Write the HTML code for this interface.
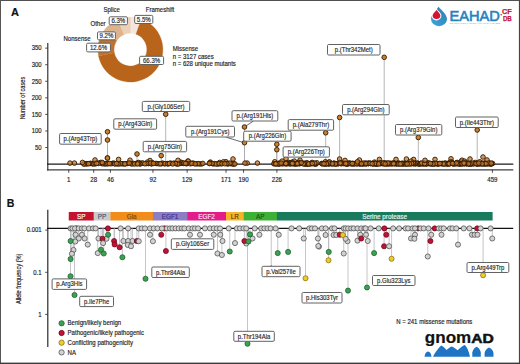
<!DOCTYPE html>
<html><head><meta charset="utf-8"><title>Figure</title>
<style>html,body{margin:0;padding:0;background:#fff;}body{width:520px;height:364px;overflow:hidden;font-family:"Liberation Sans",sans-serif;}svg{display:block;}</style></head>
<body>
<svg width="520" height="364" viewBox="0 0 520 364" font-family="Liberation Sans, sans-serif">
<rect x="0" y="0" width="520" height="364" fill="#fff"/>
<text x="11" y="15.8" font-size="11" font-weight="bold" fill="#111" stroke="#111" stroke-width="0.16">A</text>
<path d="M130.40,17.10 A32.5,32.5 0 0 1 141.42,19.03 L135.96,34.17 A16.4,16.4 0 0 0 130.40,33.20 Z" fill="#f6e6dc" stroke="#f6e6dc" stroke-width="0.3"/>
<path d="M141.42,19.03 A32.5,32.5 0 1 1 98.53,55.95 L114.32,52.80 A16.4,16.4 0 1 0 135.96,34.17 Z" fill="#b8651b" stroke="#b8651b" stroke-width="0.3"/>
<path d="M98.53,55.95 A32.5,32.5 0 0 1 103.50,31.36 L116.83,40.40 A16.4,16.4 0 0 0 114.32,52.80 Z" fill="#be7330" stroke="#be7330" stroke-width="0.3"/>
<path d="M103.50,31.36 A32.5,32.5 0 0 1 117.86,19.62 L124.07,34.47 A16.4,16.4 0 0 0 116.83,40.40 Z" fill="#ddb38e" stroke="#ddb38e" stroke-width="0.3"/>
<path d="M117.86,19.62 A32.5,32.5 0 0 1 130.40,17.10 L130.40,33.20 A16.4,16.4 0 0 0 124.07,34.47 Z" fill="#ecd0b8" stroke="#ecd0b8" stroke-width="0.3"/>
<g fill="#222">
<text font-size="6.41" transform="translate(103.5,12.10) scale(0.94,1)" stroke="#222" stroke-width="0.16">Splice</text>
<text font-size="6.41" transform="translate(145.8,12.10) scale(0.94,1)" stroke="#222" stroke-width="0.16">Frameshift</text>
<text font-size="6.41" transform="translate(90.5,26.40) scale(0.94,1)" stroke="#222" stroke-width="0.16">Other</text>
<text font-size="6.41" transform="translate(63.5,41.10) scale(0.94,1)" stroke="#222" stroke-width="0.16">Nonsense</text>
<text font-size="6.41" transform="translate(172.7,51.20) scale(0.94,1)" stroke="#222" stroke-width="0.16">Missense</text>
<text font-size="6.41" transform="translate(172.7,58.90) scale(0.94,1)" stroke="#222" stroke-width="0.16">n = 3127 cases</text>
<text font-size="6.41" transform="translate(172.7,66.10) scale(0.94,1)" stroke="#222" stroke-width="0.16">n = 628 unique mutants</text>
</g>
<rect x="109.20" y="16.80" width="18.20" height="7.90" rx="1.2" fill="#fff" stroke="#626262" stroke-width="1"/>
<text font-size="6.47" text-anchor="middle" fill="#2a2a2a" transform="translate(118.30,23.05) scale(0.94,1)" stroke="#2a2a2a" stroke-width="0.16">6.3%</text>
<rect x="134.70" y="15.40" width="18.10" height="8.10" rx="1.2" fill="#fff" stroke="#626262" stroke-width="1"/>
<text font-size="6.47" text-anchor="middle" fill="#2a2a2a" transform="translate(143.75,21.75) scale(0.94,1)" stroke="#2a2a2a" stroke-width="0.16">5.5%</text>
<rect x="97.50" y="31.90" width="17.90" height="7.90" rx="1.2" fill="#fff" stroke="#626262" stroke-width="1"/>
<text font-size="6.47" text-anchor="middle" fill="#2a2a2a" transform="translate(106.45,38.15) scale(0.94,1)" stroke="#2a2a2a" stroke-width="0.16">9.2%</text>
<rect x="86.60" y="43.20" width="23.80" height="8.70" rx="1.2" fill="#fff" stroke="#626262" stroke-width="1"/>
<text font-size="6.47" text-anchor="middle" fill="#2a2a2a" transform="translate(98.50,49.85) scale(0.94,1)" stroke="#2a2a2a" stroke-width="0.16">12.6%</text>
<rect x="139.60" y="56.30" width="24.00" height="8.20" rx="1.2" fill="#fff" stroke="#626262" stroke-width="1"/>
<text font-size="6.47" text-anchor="middle" fill="#2a2a2a" transform="translate(151.60,62.70) scale(0.94,1)" stroke="#2a2a2a" stroke-width="0.16">66.3%</text>
<line x1="47.8" y1="43" x2="47.8" y2="170.4" stroke="#222" stroke-width="1.1"/>
<line x1="45.2" y1="147.53" x2="47.5" y2="147.53" stroke="#222" stroke-width="0.8"/>
<text font-size="6.36" text-anchor="end" fill="#222" transform="translate(41.6,149.79) scale(0.94,1)" stroke="#222" stroke-width="0.16">50</text>
<line x1="45.2" y1="130.97" x2="47.5" y2="130.97" stroke="#222" stroke-width="0.8"/>
<text font-size="6.36" text-anchor="end" fill="#222" transform="translate(41.6,133.22) scale(0.94,1)" stroke="#222" stroke-width="0.16">100</text>
<line x1="45.2" y1="114.41" x2="47.5" y2="114.41" stroke="#222" stroke-width="0.8"/>
<text font-size="6.36" text-anchor="end" fill="#222" transform="translate(41.6,116.66) scale(0.94,1)" stroke="#222" stroke-width="0.16">150</text>
<line x1="45.2" y1="97.84" x2="47.5" y2="97.84" stroke="#222" stroke-width="0.8"/>
<text font-size="6.36" text-anchor="end" fill="#222" transform="translate(41.6,100.09) scale(0.94,1)" stroke="#222" stroke-width="0.16">200</text>
<line x1="45.2" y1="81.27" x2="47.5" y2="81.27" stroke="#222" stroke-width="0.8"/>
<text font-size="6.36" text-anchor="end" fill="#222" transform="translate(41.6,83.52) scale(0.94,1)" stroke="#222" stroke-width="0.16">250</text>
<line x1="45.2" y1="64.71" x2="47.5" y2="64.71" stroke="#222" stroke-width="0.8"/>
<text font-size="6.36" text-anchor="end" fill="#222" transform="translate(41.6,66.96) scale(0.94,1)" stroke="#222" stroke-width="0.16">300</text>
<line x1="45.2" y1="48.14" x2="47.5" y2="48.14" stroke="#222" stroke-width="0.8"/>
<text font-size="6.36" text-anchor="end" fill="#222" transform="translate(41.6,50.39) scale(0.94,1)" stroke="#222" stroke-width="0.16">350</text>
<line x1="47" y1="164.1" x2="513.3" y2="164.1" stroke="#1a1a1a" stroke-width="1.35"/>
<line x1="47" y1="169.8" x2="513.3" y2="169.8" stroke="#3c4146" stroke-width="1.3"/>
<line x1="68.75" y1="169.8" x2="68.75" y2="172.8" stroke="#222" stroke-width="0.8"/>
<text font-size="6.52" text-anchor="middle" fill="#222" transform="translate(68.75,181.90) scale(0.94,1)" stroke="#222" stroke-width="0.16">1</text>
<line x1="93.73" y1="169.8" x2="93.73" y2="172.8" stroke="#222" stroke-width="0.8"/>
<text font-size="6.52" text-anchor="middle" fill="#222" transform="translate(93.73,181.90) scale(0.94,1)" stroke="#222" stroke-width="0.16">28</text>
<line x1="110.38" y1="169.8" x2="110.38" y2="172.8" stroke="#222" stroke-width="0.8"/>
<text font-size="6.52" text-anchor="middle" fill="#222" transform="translate(110.38,181.90) scale(0.94,1)" stroke="#222" stroke-width="0.16">46</text>
<line x1="152.93" y1="169.8" x2="152.93" y2="172.8" stroke="#222" stroke-width="0.8"/>
<text font-size="6.52" text-anchor="middle" fill="#222" transform="translate(152.93,181.90) scale(0.94,1)" stroke="#222" stroke-width="0.16">92</text>
<line x1="187.15" y1="169.8" x2="187.15" y2="172.8" stroke="#222" stroke-width="0.8"/>
<text font-size="6.52" text-anchor="middle" fill="#222" transform="translate(187.15,181.90) scale(0.94,1)" stroke="#222" stroke-width="0.16">129</text>
<line x1="226.00" y1="169.8" x2="226.00" y2="172.8" stroke="#222" stroke-width="0.8"/>
<text font-size="6.52" text-anchor="middle" fill="#222" transform="translate(226.00,181.90) scale(0.94,1)" stroke="#222" stroke-width="0.16">171</text>
<line x1="243.57" y1="169.8" x2="243.57" y2="172.8" stroke="#222" stroke-width="0.8"/>
<text font-size="6.52" text-anchor="middle" fill="#222" transform="translate(243.57,181.90) scale(0.94,1)" stroke="#222" stroke-width="0.16">190</text>
<line x1="276.88" y1="169.8" x2="276.88" y2="172.8" stroke="#222" stroke-width="0.8"/>
<text font-size="6.52" text-anchor="middle" fill="#222" transform="translate(276.88,181.90) scale(0.94,1)" stroke="#222" stroke-width="0.16">226</text>
<line x1="492.40" y1="169.8" x2="492.40" y2="172.8" stroke="#222" stroke-width="0.8"/>
<text font-size="6.52" text-anchor="middle" fill="#222" transform="translate(492.40,181.90) scale(0.94,1)" stroke="#222" stroke-width="0.16">459</text>
<text transform="translate(25.2,98) rotate(-90)" font-size="7" text-anchor="middle" fill="#222" textLength="42.5" lengthAdjust="spacingAndGlyphs" stroke="#222" stroke-width="0.16">Number of cases</text>
<g stroke="#a9a9ad" stroke-width="0.85">
<line x1="107.50" y1="131.75" x2="107.50" y2="164.1"/>
<line x1="107.50" y1="140.00" x2="107.50" y2="164.1"/>
<line x1="107.50" y1="158.00" x2="107.50" y2="164.1"/>
<line x1="137.00" y1="154.00" x2="137.00" y2="164.1"/>
<line x1="161.20" y1="155.60" x2="161.20" y2="164.1"/>
<line x1="165.70" y1="114.25" x2="165.70" y2="164.1"/>
<line x1="244.50" y1="127.00" x2="244.50" y2="164.1"/>
<line x1="244.50" y1="142.70" x2="244.50" y2="164.1"/>
<line x1="276.80" y1="144.30" x2="276.80" y2="164.1"/>
<line x1="276.80" y1="149.70" x2="276.80" y2="164.1"/>
<line x1="325.70" y1="132.80" x2="325.70" y2="164.1"/>
<line x1="339.60" y1="117.50" x2="339.60" y2="164.1"/>
<line x1="384.20" y1="57.30" x2="384.20" y2="164.1"/>
<line x1="418.30" y1="137.50" x2="418.30" y2="164.1"/>
<line x1="477.20" y1="130.00" x2="477.20" y2="164.1"/>
</g>
<g fill="#c87828" fill-opacity="0.75" stroke="#301a05" stroke-width="0.95" stroke-opacity="0.95">
<circle cx="277.00" cy="163.60" r="2.3"/>
<circle cx="405.02" cy="163.44" r="2.3"/>
<circle cx="289.94" cy="163.93" r="2.3"/>
<circle cx="180.63" cy="162.11" r="2.3"/>
<circle cx="148.66" cy="163.44" r="2.3"/>
<circle cx="418.53" cy="163.93" r="2.3"/>
<circle cx="413.08" cy="163.77" r="2.3"/>
<circle cx="391.17" cy="163.60" r="2.3"/>
<circle cx="122.08" cy="163.77" r="2.3"/>
<circle cx="107.04" cy="163.77" r="2.3"/>
<circle cx="446.34" cy="163.44" r="2.3"/>
<circle cx="438.47" cy="163.77" r="2.3"/>
<circle cx="278.73" cy="163.44" r="2.3"/>
<circle cx="100.66" cy="162.44" r="2.3"/>
<circle cx="353.36" cy="163.77" r="2.3"/>
<circle cx="435.00" cy="159.40" r="2.3"/>
<circle cx="406.40" cy="159.00" r="2.3"/>
<circle cx="479.70" cy="163.77" r="2.3"/>
<circle cx="342.02" cy="163.11" r="2.3"/>
<circle cx="218.56" cy="163.77" r="2.3"/>
<circle cx="433.22" cy="163.93" r="2.3"/>
<circle cx="396.26" cy="163.44" r="2.3"/>
<circle cx="343.55" cy="163.44" r="2.3"/>
<circle cx="448.65" cy="163.11" r="2.3"/>
<circle cx="341.06" cy="163.77" r="2.3"/>
<circle cx="330.25" cy="163.11" r="2.3"/>
<circle cx="170.55" cy="163.11" r="2.3"/>
<circle cx="431.47" cy="163.77" r="2.3"/>
<circle cx="119.46" cy="163.77" r="2.3"/>
<circle cx="396.88" cy="163.44" r="2.3"/>
<circle cx="140.49" cy="163.77" r="2.3"/>
<circle cx="281.77" cy="163.77" r="2.3"/>
<circle cx="477.15" cy="163.44" r="2.3"/>
<circle cx="422.01" cy="163.60" r="2.3"/>
<circle cx="90.83" cy="163.44" r="2.3"/>
<circle cx="328.97" cy="163.77" r="2.3"/>
<circle cx="424.02" cy="163.11" r="2.3"/>
<circle cx="150.00" cy="160.50" r="2.3"/>
<circle cx="489.07" cy="163.77" r="2.3"/>
<circle cx="390.72" cy="163.44" r="2.3"/>
<circle cx="220.79" cy="163.77" r="2.3"/>
<circle cx="294.64" cy="163.93" r="2.3"/>
<circle cx="86.96" cy="163.60" r="2.3"/>
<circle cx="398.72" cy="163.60" r="2.3"/>
<circle cx="470.92" cy="163.44" r="2.3"/>
<circle cx="341.99" cy="163.44" r="2.3"/>
<circle cx="286.66" cy="163.11" r="2.3"/>
<circle cx="492.57" cy="163.44" r="2.3"/>
<circle cx="384.24" cy="163.77" r="2.3"/>
<circle cx="312.15" cy="162.44" r="2.3"/>
<circle cx="415.82" cy="163.44" r="2.3"/>
<circle cx="180.87" cy="163.44" r="2.3"/>
<circle cx="356.48" cy="163.44" r="2.3"/>
<circle cx="157.03" cy="163.60" r="2.3"/>
<circle cx="201.29" cy="163.93" r="2.3"/>
<circle cx="367.31" cy="163.44" r="2.3"/>
<circle cx="112.33" cy="163.44" r="2.3"/>
<circle cx="359.47" cy="163.77" r="2.3"/>
<circle cx="173.85" cy="163.11" r="2.3"/>
<circle cx="199.41" cy="163.93" r="2.3"/>
<circle cx="182.11" cy="162.77" r="2.3"/>
<circle cx="307.11" cy="163.60" r="2.3"/>
<circle cx="457.20" cy="163.11" r="2.3"/>
<circle cx="415.32" cy="163.60" r="2.3"/>
<circle cx="113.68" cy="163.11" r="2.3"/>
<circle cx="396.00" cy="159.40" r="2.3"/>
<circle cx="324.05" cy="163.77" r="2.3"/>
<circle cx="416.13" cy="163.77" r="2.3"/>
<circle cx="155.96" cy="163.44" r="2.3"/>
<circle cx="461.46" cy="161.12" r="2.3"/>
<circle cx="385.38" cy="163.44" r="2.3"/>
<circle cx="446.67" cy="163.77" r="2.3"/>
<circle cx="105.14" cy="163.60" r="2.3"/>
<circle cx="413.60" cy="159.40" r="2.3"/>
<circle cx="210.29" cy="162.11" r="2.3"/>
<circle cx="306.83" cy="163.77" r="2.3"/>
<circle cx="443.55" cy="163.93" r="2.3"/>
<circle cx="408.16" cy="163.60" r="2.3"/>
<circle cx="419.82" cy="163.77" r="2.3"/>
<circle cx="313.11" cy="163.44" r="2.3"/>
<circle cx="187.88" cy="161.12" r="2.3"/>
<circle cx="470.40" cy="163.77" r="2.3"/>
<circle cx="332.20" cy="163.77" r="2.3"/>
<circle cx="176.81" cy="163.93" r="2.3"/>
<circle cx="151.42" cy="163.44" r="2.3"/>
<circle cx="394.73" cy="163.44" r="2.3"/>
<circle cx="491.02" cy="163.93" r="2.3"/>
<circle cx="301.64" cy="162.77" r="2.3"/>
<circle cx="430.48" cy="163.77" r="2.3"/>
<circle cx="186.41" cy="163.60" r="2.3"/>
<circle cx="304.84" cy="163.93" r="2.3"/>
<circle cx="396.60" cy="163.77" r="2.3"/>
<circle cx="386.71" cy="163.11" r="2.3"/>
<circle cx="300.00" cy="160.20" r="2.3"/>
<circle cx="476.68" cy="163.60" r="2.3"/>
<circle cx="257.40" cy="163.11" r="2.3"/>
<circle cx="407.71" cy="163.44" r="2.3"/>
<circle cx="466.91" cy="163.44" r="2.3"/>
<circle cx="196.96" cy="163.77" r="2.3"/>
<circle cx="328.35" cy="163.77" r="2.3"/>
<circle cx="140.53" cy="163.60" r="2.3"/>
<circle cx="368.99" cy="163.11" r="2.3"/>
<circle cx="425.89" cy="163.77" r="2.3"/>
<circle cx="410.01" cy="163.60" r="2.3"/>
<circle cx="295.05" cy="163.60" r="2.3"/>
<circle cx="459.39" cy="163.77" r="2.3"/>
<circle cx="233.93" cy="163.93" r="2.3"/>
<circle cx="483.61" cy="163.44" r="2.3"/>
<circle cx="299.52" cy="163.77" r="2.3"/>
<circle cx="325.35" cy="161.78" r="2.3"/>
<circle cx="490.51" cy="163.93" r="2.3"/>
<circle cx="459.94" cy="163.77" r="2.3"/>
<circle cx="460.80" cy="163.77" r="2.3"/>
<circle cx="470.47" cy="163.44" r="2.3"/>
<circle cx="209.59" cy="163.44" r="2.3"/>
<circle cx="426.94" cy="163.44" r="2.3"/>
<circle cx="123.58" cy="163.77" r="2.3"/>
<circle cx="92.38" cy="163.77" r="2.3"/>
<circle cx="399.04" cy="163.11" r="2.3"/>
<circle cx="403.23" cy="163.44" r="2.3"/>
<circle cx="485.74" cy="163.11" r="2.3"/>
<circle cx="434.56" cy="163.44" r="2.3"/>
<circle cx="362.81" cy="163.77" r="2.3"/>
<circle cx="380.63" cy="163.77" r="2.3"/>
<circle cx="469.70" cy="163.93" r="2.3"/>
<circle cx="339.63" cy="162.44" r="2.3"/>
<circle cx="373.99" cy="163.60" r="2.3"/>
<circle cx="404.54" cy="163.44" r="2.3"/>
<circle cx="423.01" cy="163.77" r="2.3"/>
<circle cx="101.72" cy="163.44" r="2.3"/>
<circle cx="418.86" cy="163.77" r="2.3"/>
<circle cx="374.46" cy="162.11" r="2.3"/>
<circle cx="372.85" cy="163.77" r="2.3"/>
<circle cx="475.17" cy="162.44" r="2.3"/>
<circle cx="405.66" cy="163.77" r="2.3"/>
<circle cx="386.48" cy="163.93" r="2.3"/>
<circle cx="427.95" cy="163.11" r="2.3"/>
<circle cx="188.27" cy="161.12" r="2.3"/>
<circle cx="459.00" cy="163.77" r="2.3"/>
<circle cx="466.31" cy="163.93" r="2.3"/>
<circle cx="451.00" cy="158.80" r="2.3"/>
<circle cx="147.39" cy="162.11" r="2.3"/>
<circle cx="198.07" cy="163.60" r="2.3"/>
<circle cx="476.18" cy="163.77" r="2.3"/>
<circle cx="213.11" cy="163.93" r="2.3"/>
<circle cx="457.11" cy="162.44" r="2.3"/>
<circle cx="167.24" cy="163.60" r="2.3"/>
<circle cx="316.23" cy="163.93" r="2.3"/>
<circle cx="395.15" cy="163.77" r="2.3"/>
<circle cx="377.36" cy="163.77" r="2.3"/>
<circle cx="456.17" cy="163.11" r="2.3"/>
<circle cx="447.48" cy="163.93" r="2.3"/>
<circle cx="452.28" cy="162.77" r="2.3"/>
<circle cx="388.47" cy="163.60" r="2.3"/>
<circle cx="379.40" cy="159.40" r="2.3"/>
<circle cx="415.36" cy="163.11" r="2.3"/>
<circle cx="292.08" cy="162.11" r="2.3"/>
<circle cx="368.36" cy="163.60" r="2.3"/>
<circle cx="474.57" cy="163.44" r="2.3"/>
<circle cx="370.46" cy="163.44" r="2.3"/>
<circle cx="414.47" cy="163.77" r="2.3"/>
<circle cx="186.85" cy="163.60" r="2.3"/>
<circle cx="346.49" cy="163.60" r="2.3"/>
<circle cx="407.03" cy="163.77" r="2.3"/>
<circle cx="131.38" cy="163.60" r="2.3"/>
<circle cx="346.29" cy="163.60" r="2.3"/>
<circle cx="95.03" cy="163.93" r="2.3"/>
<circle cx="453.18" cy="163.93" r="2.3"/>
<circle cx="305.17" cy="163.77" r="2.3"/>
<circle cx="287.91" cy="163.60" r="2.3"/>
<circle cx="314.77" cy="163.77" r="2.3"/>
<circle cx="86.21" cy="163.93" r="2.3"/>
<circle cx="304.11" cy="163.44" r="2.3"/>
<circle cx="152.53" cy="162.77" r="2.3"/>
<circle cx="362.55" cy="163.44" r="2.3"/>
<circle cx="487.44" cy="163.44" r="2.3"/>
<circle cx="392.48" cy="163.44" r="2.3"/>
<circle cx="168.15" cy="163.77" r="2.3"/>
<circle cx="279.82" cy="163.77" r="2.3"/>
<circle cx="366.48" cy="163.44" r="2.3"/>
<circle cx="480.90" cy="163.44" r="2.3"/>
<circle cx="372.30" cy="163.44" r="2.3"/>
<circle cx="338.24" cy="163.44" r="2.3"/>
<circle cx="417.40" cy="163.11" r="2.3"/>
<circle cx="454.86" cy="163.77" r="2.3"/>
<circle cx="217.25" cy="163.93" r="2.3"/>
<circle cx="223.52" cy="161.78" r="2.3"/>
<circle cx="232.99" cy="163.93" r="2.3"/>
<circle cx="450.66" cy="163.11" r="2.3"/>
<circle cx="97.37" cy="163.11" r="2.3"/>
<circle cx="370.70" cy="163.44" r="2.3"/>
<circle cx="321.79" cy="163.44" r="2.3"/>
<circle cx="449.89" cy="163.77" r="2.3"/>
<circle cx="352.88" cy="163.44" r="2.3"/>
<circle cx="462.04" cy="163.77" r="2.3"/>
<circle cx="230.94" cy="163.77" r="2.3"/>
<circle cx="344.44" cy="163.44" r="2.3"/>
<circle cx="489.23" cy="163.11" r="2.3"/>
<circle cx="441.07" cy="163.60" r="2.3"/>
<circle cx="335.95" cy="163.77" r="2.3"/>
<circle cx="330.48" cy="163.77" r="2.3"/>
<circle cx="392.00" cy="163.60" r="2.3"/>
<circle cx="388.63" cy="163.44" r="2.3"/>
<circle cx="117.01" cy="163.77" r="2.3"/>
<circle cx="462.00" cy="160.20" r="2.3"/>
<circle cx="463.90" cy="163.77" r="2.3"/>
<circle cx="372.99" cy="163.77" r="2.3"/>
<circle cx="151.44" cy="163.93" r="2.3"/>
<circle cx="334.18" cy="163.11" r="2.3"/>
<circle cx="485.25" cy="163.77" r="2.3"/>
<circle cx="384.20" cy="162.77" r="2.3"/>
<circle cx="226.04" cy="161.78" r="2.3"/>
<circle cx="441.19" cy="163.60" r="2.3"/>
<circle cx="357.32" cy="163.77" r="2.3"/>
<circle cx="84.25" cy="163.93" r="2.3"/>
<circle cx="294.31" cy="161.12" r="2.3"/>
<circle cx="398.06" cy="163.44" r="2.3"/>
<circle cx="345.50" cy="163.60" r="2.3"/>
<circle cx="104.15" cy="163.77" r="2.3"/>
<circle cx="437.32" cy="163.93" r="2.3"/>
<circle cx="190.20" cy="163.77" r="2.3"/>
<circle cx="162.42" cy="163.11" r="2.3"/>
<circle cx="74.40" cy="163.11" r="2.3"/>
<circle cx="401.57" cy="163.44" r="2.3"/>
<circle cx="296.21" cy="163.77" r="2.3"/>
<circle cx="408.96" cy="163.44" r="2.3"/>
<circle cx="481.30" cy="163.77" r="2.3"/>
<circle cx="70.00" cy="163.11" r="2.3"/>
<circle cx="311.29" cy="163.44" r="2.3"/>
<circle cx="396.62" cy="163.77" r="2.3"/>
<circle cx="429.03" cy="163.77" r="2.3"/>
<circle cx="453.39" cy="163.77" r="2.3"/>
<circle cx="473.83" cy="163.44" r="2.3"/>
<circle cx="364.11" cy="163.93" r="2.3"/>
<circle cx="451.64" cy="162.11" r="2.3"/>
<circle cx="337.79" cy="163.77" r="2.3"/>
<circle cx="417.81" cy="163.44" r="2.3"/>
<circle cx="178.91" cy="163.77" r="2.3"/>
<circle cx="105.47" cy="163.77" r="2.3"/>
<circle cx="284.16" cy="163.60" r="2.3"/>
<circle cx="278.33" cy="163.93" r="2.3"/>
<circle cx="375.02" cy="163.93" r="2.3"/>
<circle cx="484.75" cy="163.44" r="2.3"/>
<circle cx="483.00" cy="157.00" r="2.3"/>
<circle cx="178.00" cy="160.30" r="2.3"/>
<circle cx="399.83" cy="163.77" r="2.3"/>
<circle cx="329.27" cy="161.78" r="2.3"/>
<circle cx="227.56" cy="163.60" r="2.3"/>
<circle cx="487.42" cy="163.93" r="2.3"/>
<circle cx="228.13" cy="163.93" r="2.3"/>
<circle cx="445.30" cy="163.77" r="2.3"/>
<circle cx="402.31" cy="163.44" r="2.3"/>
<circle cx="232.47" cy="163.60" r="2.3"/>
<circle cx="120.69" cy="163.60" r="2.3"/>
<circle cx="288.68" cy="162.44" r="2.3"/>
<circle cx="477.74" cy="163.93" r="2.3"/>
<circle cx="350.01" cy="163.11" r="2.3"/>
<circle cx="444.80" cy="163.11" r="2.3"/>
<circle cx="389.98" cy="163.44" r="2.3"/>
<circle cx="177.74" cy="163.93" r="2.3"/>
<circle cx="468.42" cy="163.93" r="2.3"/>
<circle cx="118.22" cy="163.93" r="2.3"/>
<circle cx="432.09" cy="163.93" r="2.3"/>
<circle cx="289.10" cy="163.11" r="2.3"/>
<circle cx="303.24" cy="163.44" r="2.3"/>
<circle cx="175.49" cy="163.44" r="2.3"/>
<circle cx="130.74" cy="163.44" r="2.3"/>
<circle cx="296.35" cy="163.77" r="2.3"/>
<circle cx="442.55" cy="163.60" r="2.3"/>
<circle cx="445.28" cy="163.44" r="2.3"/>
<circle cx="342.04" cy="163.44" r="2.3"/>
<circle cx="470.97" cy="163.60" r="2.3"/>
<circle cx="491.09" cy="163.93" r="2.3"/>
<circle cx="164.62" cy="163.77" r="2.3"/>
<circle cx="313.02" cy="163.60" r="2.3"/>
<circle cx="345.28" cy="163.60" r="2.3"/>
<circle cx="306.47" cy="162.77" r="2.3"/>
<circle cx="315.13" cy="163.77" r="2.3"/>
<circle cx="133.49" cy="163.44" r="2.3"/>
<circle cx="214.67" cy="163.60" r="2.3"/>
<circle cx="351.63" cy="163.77" r="2.3"/>
<circle cx="413.94" cy="163.44" r="2.3"/>
<circle cx="485.72" cy="163.44" r="2.3"/>
<circle cx="389.60" cy="163.77" r="2.3"/>
<circle cx="298.49" cy="162.44" r="2.3"/>
<circle cx="455.96" cy="163.93" r="2.3"/>
<circle cx="487.00" cy="160.00" r="2.3"/>
<circle cx="335.15" cy="163.93" r="2.3"/>
<circle cx="310.23" cy="163.77" r="2.3"/>
<circle cx="325.62" cy="163.60" r="2.3"/>
<circle cx="437.29" cy="163.77" r="2.3"/>
<circle cx="410.95" cy="163.77" r="2.3"/>
<circle cx="375.96" cy="163.93" r="2.3"/>
<circle cx="355.24" cy="163.44" r="2.3"/>
<circle cx="286.33" cy="163.44" r="2.3"/>
<circle cx="464.58" cy="161.12" r="2.3"/>
<circle cx="463.29" cy="163.11" r="2.3"/>
<circle cx="402.88" cy="163.93" r="2.3"/>
<circle cx="362.33" cy="163.77" r="2.3"/>
<circle cx="229.89" cy="163.11" r="2.3"/>
<circle cx="102.70" cy="163.77" r="2.3"/>
<circle cx="92.65" cy="163.60" r="2.3"/>
<circle cx="479.37" cy="163.77" r="2.3"/>
<circle cx="325.15" cy="163.93" r="2.3"/>
<circle cx="193.94" cy="163.44" r="2.3"/>
<circle cx="419.66" cy="163.93" r="2.3"/>
<circle cx="426.60" cy="163.93" r="2.3"/>
<circle cx="420.84" cy="163.60" r="2.3"/>
<circle cx="292.89" cy="163.44" r="2.3"/>
<circle cx="127.51" cy="163.44" r="2.3"/>
<circle cx="216.06" cy="163.93" r="2.3"/>
<circle cx="368.22" cy="163.44" r="2.3"/>
<circle cx="306.73" cy="163.93" r="2.3"/>
<circle cx="365.93" cy="163.93" r="2.3"/>
<circle cx="327.10" cy="163.11" r="2.3"/>
<circle cx="158.99" cy="163.77" r="2.3"/>
<circle cx="286.00" cy="158.60" r="2.3"/>
<circle cx="354.64" cy="163.77" r="2.3"/>
<circle cx="183.58" cy="163.44" r="2.3"/>
<circle cx="282.91" cy="163.77" r="2.3"/>
<circle cx="328.83" cy="163.77" r="2.3"/>
<circle cx="411.08" cy="161.12" r="2.3"/>
<circle cx="482.30" cy="163.77" r="2.3"/>
<circle cx="247.20" cy="163.11" r="2.3"/>
<circle cx="289.85" cy="163.44" r="2.3"/>
<circle cx="423.83" cy="163.77" r="2.3"/>
<circle cx="451.48" cy="163.11" r="2.3"/>
<circle cx="359.69" cy="163.60" r="2.3"/>
<circle cx="351.86" cy="163.77" r="2.3"/>
<circle cx="310.07" cy="163.77" r="2.3"/>
<circle cx="434.81" cy="163.44" r="2.3"/>
<circle cx="279.68" cy="163.60" r="2.3"/>
<circle cx="403.47" cy="163.60" r="2.3"/>
<circle cx="439.15" cy="163.60" r="2.3"/>
<circle cx="333.60" cy="163.60" r="2.3"/>
<circle cx="331.22" cy="163.44" r="2.3"/>
<circle cx="307.35" cy="163.77" r="2.3"/>
<circle cx="139.83" cy="163.44" r="2.3"/>
<circle cx="413.43" cy="163.11" r="2.3"/>
<circle cx="460.44" cy="163.77" r="2.3"/>
<circle cx="278.02" cy="163.44" r="2.3"/>
<circle cx="405.12" cy="163.93" r="2.3"/>
<circle cx="161.55" cy="163.77" r="2.3"/>
<circle cx="365.33" cy="163.11" r="2.3"/>
<circle cx="471.15" cy="163.77" r="2.3"/>
<circle cx="344.33" cy="163.11" r="2.3"/>
<circle cx="141.99" cy="163.11" r="2.3"/>
<circle cx="424.16" cy="163.60" r="2.3"/>
<circle cx="358.78" cy="163.11" r="2.3"/>
<circle cx="315.32" cy="163.93" r="2.3"/>
<circle cx="245.00" cy="163.11" r="2.3"/>
<circle cx="136.21" cy="163.44" r="2.3"/>
<circle cx="316.85" cy="162.77" r="2.3"/>
<circle cx="148.75" cy="163.44" r="2.3"/>
<circle cx="479.73" cy="161.78" r="2.3"/>
<circle cx="382.23" cy="163.44" r="2.3"/>
<circle cx="450.29" cy="162.11" r="2.3"/>
<circle cx="338.49" cy="163.60" r="2.3"/>
<circle cx="131.97" cy="163.93" r="2.3"/>
<circle cx="349.17" cy="163.44" r="2.3"/>
<circle cx="276.45" cy="163.77" r="2.3"/>
<circle cx="438.41" cy="163.77" r="2.3"/>
<circle cx="377.37" cy="163.77" r="2.3"/>
<circle cx="434.89" cy="163.93" r="2.3"/>
<circle cx="393.97" cy="163.11" r="2.3"/>
<circle cx="472.15" cy="163.93" r="2.3"/>
<circle cx="421.90" cy="163.77" r="2.3"/>
<circle cx="473.76" cy="163.77" r="2.3"/>
<circle cx="293.93" cy="163.77" r="2.3"/>
<circle cx="321.93" cy="163.77" r="2.3"/>
<circle cx="165.07" cy="163.60" r="2.3"/>
<circle cx="485.99" cy="163.77" r="2.3"/>
<circle cx="471.81" cy="163.11" r="2.3"/>
<circle cx="458.19" cy="163.60" r="2.3"/>
<circle cx="477.61" cy="163.93" r="2.3"/>
<circle cx="299.53" cy="163.44" r="2.3"/>
<circle cx="411.76" cy="163.44" r="2.3"/>
<circle cx="308.73" cy="163.77" r="2.3"/>
<circle cx="348.69" cy="163.11" r="2.3"/>
<circle cx="110.87" cy="163.77" r="2.3"/>
<circle cx="389.55" cy="163.44" r="2.3"/>
<circle cx="466.43" cy="162.77" r="2.3"/>
<circle cx="297.71" cy="163.44" r="2.3"/>
<circle cx="375.09" cy="163.11" r="2.3"/>
<circle cx="114.83" cy="163.60" r="2.3"/>
<circle cx="359.94" cy="163.77" r="2.3"/>
<circle cx="167.78" cy="163.77" r="2.3"/>
<circle cx="89.95" cy="163.44" r="2.3"/>
<circle cx="107.86" cy="163.77" r="2.3"/>
<circle cx="282.04" cy="161.12" r="2.3"/>
<circle cx="202.83" cy="163.44" r="2.3"/>
<circle cx="279.33" cy="163.44" r="2.3"/>
<circle cx="274.73" cy="161.78" r="2.3"/>
<circle cx="343.53" cy="163.44" r="2.3"/>
<circle cx="476.04" cy="163.60" r="2.3"/>
<circle cx="360.86" cy="163.77" r="2.3"/>
<circle cx="291.09" cy="163.11" r="2.3"/>
<circle cx="219.68" cy="162.44" r="2.3"/>
<circle cx="169.50" cy="163.44" r="2.3"/>
<circle cx="298.05" cy="163.60" r="2.3"/>
<circle cx="458.30" cy="163.77" r="2.3"/>
<circle cx="311.44" cy="163.44" r="2.3"/>
<circle cx="368.65" cy="163.44" r="2.3"/>
<circle cx="307.59" cy="163.11" r="2.3"/>
<circle cx="488.80" cy="163.11" r="2.3"/>
<circle cx="347.73" cy="163.44" r="2.3"/>
<circle cx="130.00" cy="160.20" r="2.3"/>
<circle cx="435.92" cy="163.44" r="2.3"/>
<circle cx="293.22" cy="163.11" r="2.3"/>
<circle cx="442.28" cy="163.60" r="2.3"/>
<circle cx="93.66" cy="163.77" r="2.3"/>
<circle cx="286.69" cy="163.77" r="2.3"/>
<circle cx="336.36" cy="163.77" r="2.3"/>
<circle cx="345.00" cy="160.40" r="2.3"/>
<circle cx="376.40" cy="163.93" r="2.3"/>
<circle cx="285.70" cy="163.77" r="2.3"/>
<circle cx="433.06" cy="163.93" r="2.3"/>
<circle cx="333.55" cy="163.44" r="2.3"/>
<circle cx="304.13" cy="163.44" r="2.3"/>
<circle cx="402.41" cy="163.60" r="2.3"/>
<circle cx="358.96" cy="163.44" r="2.3"/>
<circle cx="192.66" cy="163.11" r="2.3"/>
<circle cx="308.77" cy="163.93" r="2.3"/>
<circle cx="483.88" cy="163.93" r="2.3"/>
<circle cx="210.23" cy="163.11" r="2.3"/>
<circle cx="363.81" cy="163.11" r="2.3"/>
<circle cx="398.34" cy="163.93" r="2.3"/>
<circle cx="375.38" cy="163.44" r="2.3"/>
<circle cx="469.97" cy="163.93" r="2.3"/>
<circle cx="443.98" cy="163.93" r="2.3"/>
<circle cx="470.00" cy="159.00" r="2.3"/>
<circle cx="411.49" cy="163.44" r="2.3"/>
<circle cx="125.77" cy="163.77" r="2.3"/>
<circle cx="409.52" cy="163.93" r="2.3"/>
<circle cx="339.60" cy="159.00" r="2.3"/>
<circle cx="233.00" cy="159.00" r="2.3"/>
<circle cx="456.26" cy="163.11" r="2.3"/>
<circle cx="366.04" cy="163.60" r="2.3"/>
<circle cx="314.71" cy="163.11" r="2.3"/>
<circle cx="482.10" cy="163.11" r="2.3"/>
<circle cx="150.58" cy="163.11" r="2.3"/>
<circle cx="347.51" cy="163.93" r="2.3"/>
<circle cx="146.64" cy="163.60" r="2.3"/>
<circle cx="328.52" cy="163.11" r="2.3"/>
<circle cx="160.29" cy="163.77" r="2.3"/>
<circle cx="353.76" cy="163.77" r="2.3"/>
<circle cx="370.10" cy="163.44" r="2.3"/>
<circle cx="335.46" cy="163.93" r="2.3"/>
<circle cx="124.80" cy="163.93" r="2.3"/>
<circle cx="273.80" cy="163.77" r="2.3"/>
<circle cx="347.53" cy="163.93" r="2.3"/>
<circle cx="372.18" cy="163.77" r="2.3"/>
<circle cx="109.38" cy="163.44" r="2.3"/>
<circle cx="142.86" cy="163.11" r="2.3"/>
<circle cx="172.78" cy="163.93" r="2.3"/>
<circle cx="387.61" cy="163.93" r="2.3"/>
<circle cx="297.19" cy="163.60" r="2.3"/>
<circle cx="285.87" cy="163.44" r="2.3"/>
<circle cx="139.87" cy="163.77" r="2.3"/>
<circle cx="278.86" cy="163.77" r="2.3"/>
<circle cx="466.67" cy="163.44" r="2.3"/>
<circle cx="219.13" cy="163.60" r="2.3"/>
<circle cx="326.39" cy="163.93" r="2.3"/>
<circle cx="83.69" cy="163.93" r="2.3"/>
<circle cx="350.10" cy="163.60" r="2.3"/>
<circle cx="144.79" cy="163.77" r="2.3"/>
<circle cx="226.83" cy="163.60" r="2.3"/>
<circle cx="134.64" cy="163.93" r="2.3"/>
<circle cx="379.67" cy="163.11" r="2.3"/>
<circle cx="491.28" cy="163.11" r="2.3"/>
<circle cx="427.85" cy="163.11" r="2.3"/>
<circle cx="356.73" cy="163.77" r="2.3"/>
<circle cx="381.20" cy="163.11" r="2.3"/>
<circle cx="275.12" cy="163.77" r="2.3"/>
<circle cx="379.85" cy="163.11" r="2.3"/>
<circle cx="393.81" cy="163.11" r="2.3"/>
<circle cx="461.39" cy="163.60" r="2.3"/>
<circle cx="234.91" cy="163.93" r="2.3"/>
<circle cx="378.67" cy="163.93" r="2.3"/>
<circle cx="484.43" cy="163.44" r="2.3"/>
<circle cx="448.23" cy="163.77" r="2.3"/>
<circle cx="95.21" cy="163.11" r="2.3"/>
<circle cx="98.49" cy="163.44" r="2.3"/>
<circle cx="468.46" cy="163.77" r="2.3"/>
<circle cx="451.47" cy="162.77" r="2.3"/>
<circle cx="428.92" cy="163.11" r="2.3"/>
<circle cx="102.23" cy="162.44" r="2.3"/>
<circle cx="383.15" cy="163.77" r="2.3"/>
<circle cx="118.60" cy="159.40" r="2.3"/>
<circle cx="464.81" cy="163.44" r="2.3"/>
<circle cx="420.70" cy="163.44" r="2.3"/>
<circle cx="312.29" cy="163.44" r="2.3"/>
<circle cx="322.96" cy="163.77" r="2.3"/>
<circle cx="153.50" cy="163.44" r="2.3"/>
<circle cx="212.10" cy="163.44" r="2.3"/>
<circle cx="88.45" cy="163.77" r="2.3"/>
<circle cx="392.06" cy="163.60" r="2.3"/>
<circle cx="346.87" cy="163.60" r="2.3"/>
<circle cx="191.77" cy="163.44" r="2.3"/>
<circle cx="326.37" cy="163.77" r="2.3"/>
<circle cx="291.51" cy="163.77" r="2.3"/>
<circle cx="114.90" cy="163.93" r="2.3"/>
<circle cx="184.14" cy="163.11" r="2.3"/>
<circle cx="352.32" cy="163.44" r="2.3"/>
<circle cx="138.51" cy="162.44" r="2.3"/>
<circle cx="303.28" cy="163.93" r="2.3"/>
<circle cx="82.52" cy="162.44" r="2.3"/>
<circle cx="383.33" cy="163.11" r="2.3"/>
<circle cx="391.18" cy="163.60" r="2.3"/>
<circle cx="324.02" cy="163.77" r="2.3"/>
<circle cx="448.28" cy="163.77" r="2.3"/>
<circle cx="345.66" cy="163.60" r="2.3"/>
<circle cx="401.50" cy="163.77" r="2.3"/>
<circle cx="95.00" cy="160.00" r="2.3"/>
<circle cx="387.97" cy="163.11" r="2.3"/>
<circle cx="138.03" cy="163.11" r="2.3"/>
<circle cx="485.95" cy="163.60" r="2.3"/>
<circle cx="385.13" cy="163.93" r="2.3"/>
<circle cx="449.24" cy="163.77" r="2.3"/>
<circle cx="393.06" cy="163.44" r="2.3"/>
<circle cx="341.04" cy="163.44" r="2.3"/>
<circle cx="426.22" cy="163.77" r="2.3"/>
<circle cx="393.74" cy="163.77" r="2.3"/>
<circle cx="407.13" cy="163.93" r="2.3"/>
<circle cx="137.53" cy="163.93" r="2.3"/>
<circle cx="424.73" cy="163.44" r="2.3"/>
<circle cx="116.65" cy="163.44" r="2.3"/>
<circle cx="439.87" cy="163.44" r="2.3"/>
<circle cx="421.72" cy="163.11" r="2.3"/>
<circle cx="96.73" cy="163.44" r="2.3"/>
<circle cx="292.49" cy="163.44" r="2.3"/>
<circle cx="424.63" cy="163.60" r="2.3"/>
<circle cx="462.21" cy="163.77" r="2.3"/>
<circle cx="281.17" cy="163.11" r="2.3"/>
<circle cx="425.00" cy="160.30" r="2.3"/>
<circle cx="332.39" cy="163.77" r="2.3"/>
<circle cx="275.92" cy="163.77" r="2.3"/>
<circle cx="430.49" cy="163.44" r="2.3"/>
<circle cx="359.40" cy="160.00" r="2.3"/>
<circle cx="222.02" cy="163.77" r="2.3"/>
<circle cx="209.29" cy="163.44" r="2.3"/>
<circle cx="361.44" cy="163.77" r="2.3"/>
<circle cx="482.17" cy="163.77" r="2.3"/>
<circle cx="478.82" cy="163.11" r="2.3"/>
<circle cx="464.31" cy="163.60" r="2.3"/>
<circle cx="224.84" cy="163.77" r="2.3"/>
<circle cx="357.40" cy="161.78" r="2.3"/>
<circle cx="129.22" cy="163.11" r="2.3"/>
<circle cx="301.22" cy="162.77" r="2.3"/>
<circle cx="185.70" cy="163.44" r="2.3"/>
<circle cx="400.22" cy="163.93" r="2.3"/>
<circle cx="195.23" cy="163.93" r="2.3"/>
<circle cx="452.60" cy="163.44" r="2.3"/>
<circle cx="340.14" cy="163.11" r="2.3"/>
<circle cx="107.40" cy="158.00" r="2.3"/>
<circle cx="463.92" cy="163.11" r="2.3"/>
</g>
<g fill="#c8802f" stroke="#3a2006" stroke-width="0.95">
<circle cx="107.50" cy="131.75" r="2.3"/>
<circle cx="107.50" cy="140.00" r="2.3"/>
<circle cx="107.50" cy="158.00" r="2.3"/>
<circle cx="137.00" cy="154.00" r="2.3"/>
<circle cx="161.20" cy="155.60" r="2.3"/>
<circle cx="165.70" cy="114.25" r="2.3"/>
<circle cx="244.50" cy="127.00" r="2.3"/>
<circle cx="244.50" cy="142.70" r="2.3"/>
<circle cx="276.80" cy="144.30" r="2.3"/>
<circle cx="276.80" cy="149.70" r="2.3"/>
<circle cx="325.70" cy="132.80" r="2.3"/>
<circle cx="339.60" cy="117.50" r="2.3"/>
<circle cx="384.20" cy="57.30" r="2.3"/>
<circle cx="418.30" cy="137.50" r="2.3"/>
<circle cx="477.20" cy="130.00" r="2.3"/>
</g>
<g stroke="#3a444e" stroke-width="0.8">
<line x1="253.2" y1="121.2" x2="246" y2="126"/>
<line x1="226" y1="137.2" x2="243" y2="142.4"/>
</g>
<rect x="59.60" y="133.50" width="41.60" height="10.70" rx="1.2" fill="#fff" stroke="#626262" stroke-width="1"/>
<text font-size="6.36" text-anchor="middle" fill="#2a2a2a" transform="translate(80.40,141.11) scale(0.94,1)" stroke="#2a2a2a" stroke-width="0.16">p.(Arg43Trp)</text>
<rect x="113.80" y="118.80" width="42.80" height="10.40" rx="1.2" fill="#fff" stroke="#626262" stroke-width="1"/>
<text font-size="6.36" text-anchor="middle" fill="#2a2a2a" transform="translate(135.20,126.26) scale(0.94,1)" stroke="#2a2a2a" stroke-width="0.16">p.(Arg43Gln)</text>
<rect x="142.30" y="101.40" width="47.40" height="10.10" rx="1.2" fill="#fff" stroke="#626262" stroke-width="1"/>
<text font-size="6.36" text-anchor="middle" fill="#2a2a2a" transform="translate(166.00,108.71) scale(0.94,1)" stroke="#2a2a2a" stroke-width="0.16">p.(Gly106Ser)</text>
<rect x="143.20" y="141.40" width="43.40" height="10.40" rx="1.2" fill="#fff" stroke="#626262" stroke-width="1"/>
<text font-size="6.36" text-anchor="middle" fill="#2a2a2a" transform="translate(164.90,148.86) scale(0.94,1)" stroke="#2a2a2a" stroke-width="0.16">p.(Arg75Gln)</text>
<rect x="185.80" y="126.30" width="48.70" height="10.70" rx="1.2" fill="#fff" stroke="#626262" stroke-width="1"/>
<text font-size="6.36" text-anchor="middle" fill="#2a2a2a" transform="translate(210.15,133.91) scale(0.94,1)" stroke="#2a2a2a" stroke-width="0.16">p.(Arg191Cys)</text>
<rect x="232.00" y="110.70" width="45.80" height="10.30" rx="1.2" fill="#fff" stroke="#626262" stroke-width="1"/>
<text font-size="6.36" text-anchor="middle" fill="#2a2a2a" transform="translate(254.90,118.11) scale(0.94,1)" stroke="#2a2a2a" stroke-width="0.16">p.(Arg191His)</text>
<rect x="243.70" y="131.20" width="47.40" height="10.00" rx="1.2" fill="#fff" stroke="#626262" stroke-width="1"/>
<text font-size="6.36" text-anchor="middle" fill="#2a2a2a" transform="translate(267.40,138.46) scale(0.94,1)" stroke="#2a2a2a" stroke-width="0.16">p.(Arg226Gln)</text>
<rect x="283.10" y="146.80" width="46.30" height="10.30" rx="1.2" fill="#fff" stroke="#626262" stroke-width="1"/>
<text font-size="6.36" text-anchor="middle" fill="#2a2a2a" transform="translate(306.25,154.21) scale(0.94,1)" stroke="#2a2a2a" stroke-width="0.16">p.(Arg226Trp)</text>
<rect x="288.20" y="119.60" width="45.40" height="10.60" rx="1.2" fill="#fff" stroke="#626262" stroke-width="1"/>
<text font-size="6.36" text-anchor="middle" fill="#2a2a2a" transform="translate(310.90,127.16) scale(0.94,1)" stroke="#2a2a2a" stroke-width="0.16">p.(Ala279Thr)</text>
<rect x="342.50" y="104.50" width="46.70" height="10.30" rx="1.2" fill="#fff" stroke="#626262" stroke-width="1"/>
<text font-size="6.36" text-anchor="middle" fill="#2a2a2a" transform="translate(365.85,111.91) scale(0.94,1)" stroke="#2a2a2a" stroke-width="0.16">p.(Arg294Gln)</text>
<rect x="327.50" y="44.50" width="52.50" height="10.50" rx="1.2" fill="#fff" stroke="#626262" stroke-width="1"/>
<text font-size="6.36" text-anchor="middle" fill="#2a2a2a" transform="translate(353.75,52.01) scale(0.94,1)" stroke="#2a2a2a" stroke-width="0.16">p.(Thr342Met)</text>
<rect x="395.50" y="124.50" width="46.30" height="10.50" rx="1.2" fill="#fff" stroke="#626262" stroke-width="1"/>
<text font-size="6.36" text-anchor="middle" fill="#2a2a2a" transform="translate(418.65,132.01) scale(0.94,1)" stroke="#2a2a2a" stroke-width="0.16">p.(Arg379Gln)</text>
<rect x="455.50" y="117.00" width="42.70" height="10.50" rx="1.2" fill="#fff" stroke="#626262" stroke-width="1"/>
<text font-size="6.36" text-anchor="middle" fill="#2a2a2a" transform="translate(476.85,124.51) scale(0.94,1)" stroke="#2a2a2a" stroke-width="0.16">p.(Ile443Thr)</text>
<defs><linearGradient id="dg" x1="0" y1="1" x2="1" y2="0"><stop offset="0" stop-color="#3fa6dc"/><stop offset="1" stop-color="#2a7fae"/></linearGradient></defs>
<path d="M438.6,6.8 C441.5,10.5 447,14.5 447,19 A8,7.2 0 0 1 431,19 C431,15.5 435.5,11 438.6,6.8 Z" fill="url(#dg)"/>
<path d="M436.5,8.8 C438.2,11 441.4,13.2 441.4,15.8 A4.9,4.6 0 0 1 431.6,15.8 C431.6,13.6 434.8,11 436.5,8.8 Z" fill="#fff"/>
<path d="M436.5,10 C437.9,11.8 440.4,13.6 440.4,15.6 A3.9,3.5 0 0 1 432.6,15.6 C432.6,13.8 435.1,11.8 436.5,10 Z" fill="#d3132f"/>
<text x="449.4" y="20.5" font-size="14.9" fill="#2583bd" style="stroke:#2583bd;stroke-width:0.6px" textLength="50.4" lengthAdjust="spacingAndGlyphs">EAHAD</text>
<text x="502" y="14.3" font-size="7.4" font-weight="bold" fill="#c4143f" style="stroke:#c4143f;stroke-width:0.25px" textLength="9.8" lengthAdjust="spacingAndGlyphs">CF</text>
<text x="502.9" y="20.5" font-size="7.4" font-weight="bold" fill="#c4143f" style="stroke:#c4143f;stroke-width:0.25px" textLength="8.9" lengthAdjust="spacingAndGlyphs">DB</text>
<circle cx="501.2" cy="14.8" r="0.75" fill="#c4143f"/>
<text x="449.6" y="24.2" font-size="2.4" fill="#8c9db2" style="stroke:none" textLength="50.5" lengthAdjust="spacingAndGlyphs">COAGULATION FACTOR VARIANT DATABASES</text>
<text x="6.8" y="206.8" font-size="10.6" font-weight="bold" fill="#111" stroke="#111" stroke-width="0.16">B</text>
<rect x="68.75" y="212" width="25.18" height="8.5" fill="#c5122f"/>
<text font-size="6.78" text-anchor="middle" fill="#fff" transform="translate(81.24,218.70) scale(0.94,1)" stroke="#fff" stroke-width="0.16">SP</text>
<rect x="93.73" y="212" width="16.85" height="8.5" fill="#c9cacc"/>
<text font-size="6.78" text-anchor="middle" fill="#3f5478" transform="translate(102.05,218.70) scale(0.94,1)" stroke="#3f5478" stroke-width="0.16">PP</text>
<rect x="110.38" y="212" width="42.75" height="8.5" fill="#f28c1a"/>
<text font-size="6.78" text-anchor="middle" fill="#7d470a" transform="translate(131.65,218.70) scale(0.94,1)" stroke="#7d470a" stroke-width="0.16">Gla</text>
<rect x="152.93" y="212" width="34.42" height="8.5" fill="#8b7dc6"/>
<text font-size="6.78" text-anchor="middle" fill="#3f2f88" transform="translate(170.04,218.70) scale(0.94,1)" stroke="#3f2f88" stroke-width="0.16">EGF1</text>
<rect x="187.15" y="212" width="39.05" height="8.5" fill="#e41c8a"/>
<text font-size="6.78" text-anchor="middle" fill="#ffe0f0" transform="translate(206.57,218.70) scale(0.94,1)" stroke="#ffe0f0" stroke-width="0.16">EGF2</text>
<rect x="226.00" y="212" width="17.77" height="8.5" fill="#f6b428"/>
<text font-size="6.78" text-anchor="middle" fill="#5c3b02" transform="translate(234.79,218.70) scale(0.94,1)" stroke="#5c3b02" stroke-width="0.16">LR</text>
<rect x="243.57" y="212" width="33.50" height="8.5" fill="#3cb135"/>
<text font-size="6.78" text-anchor="middle" fill="#175212" transform="translate(260.23,218.70) scale(0.94,1)" stroke="#175212" stroke-width="0.16">AP</text>
<rect x="276.88" y="212" width="215.73" height="8.5" fill="#1a7a5c"/>
<text font-size="6.78" text-anchor="middle" fill="#eaf6f0" transform="translate(384.64,218.70) scale(0.94,1)" stroke="#eaf6f0" stroke-width="0.16">Serine protease</text>
<line x1="47.8" y1="209.8" x2="47.8" y2="347" stroke="#222" stroke-width="1.15"/>
<line x1="47" y1="228.4" x2="513.2" y2="228.4" stroke="#111" stroke-width="1.3"/>
<line x1="45.2" y1="230.10" x2="47.5" y2="230.10" stroke="#222" stroke-width="0.8"/>
<text font-size="6.36" text-anchor="end" fill="#222" transform="translate(41.6,232.35) scale(0.94,1)" stroke="#222" stroke-width="0.16">0.001</text>
<line x1="45.2" y1="272.30" x2="47.5" y2="272.30" stroke="#222" stroke-width="0.8"/>
<text font-size="6.36" text-anchor="end" fill="#222" transform="translate(41.6,274.55) scale(0.94,1)" stroke="#222" stroke-width="0.16">0.1</text>
<line x1="45.2" y1="314.40" x2="47.5" y2="314.40" stroke="#222" stroke-width="0.8"/>
<text font-size="6.36" text-anchor="end" fill="#222" transform="translate(41.6,316.65) scale(0.94,1)" stroke="#222" stroke-width="0.16">1</text>
<text transform="translate(21.3,278.8) rotate(-90)" font-size="7" text-anchor="middle" fill="#222" textLength="50.5" lengthAdjust="spacingAndGlyphs" stroke="#222" stroke-width="0.16">Allele frequency (%)</text>
<g stroke="#b6b6bc" stroke-width="0.8">
<line x1="75.60" y1="228.4" x2="75.60" y2="234.75"/>
<line x1="81.90" y1="228.4" x2="81.90" y2="234.75"/>
<line x1="78.75" y1="228.4" x2="78.75" y2="238.50"/>
<line x1="84.60" y1="228.4" x2="84.60" y2="238.50"/>
<line x1="75.25" y1="228.4" x2="75.25" y2="241.50"/>
<line x1="70.60" y1="228.4" x2="70.60" y2="241.00"/>
<line x1="87.75" y1="228.4" x2="87.75" y2="244.60"/>
<line x1="73.50" y1="228.4" x2="73.50" y2="250.00"/>
<line x1="71.90" y1="228.4" x2="71.90" y2="253.75"/>
<line x1="70.60" y1="228.4" x2="70.60" y2="259.00"/>
<line x1="106.50" y1="228.4" x2="106.50" y2="238.75"/>
<line x1="98.50" y1="228.4" x2="98.50" y2="238.50"/>
<line x1="102.50" y1="228.4" x2="102.50" y2="238.75"/>
<line x1="108.10" y1="228.4" x2="108.10" y2="234.75"/>
<line x1="103.10" y1="228.4" x2="103.10" y2="243.10"/>
<line x1="97.75" y1="228.4" x2="97.75" y2="253.10"/>
<line x1="101.00" y1="228.4" x2="101.00" y2="249.75"/>
<line x1="103.75" y1="228.4" x2="103.75" y2="253.50"/>
<line x1="114.10" y1="228.4" x2="114.10" y2="241.00"/>
<line x1="114.60" y1="228.4" x2="114.60" y2="244.40"/>
<line x1="119.60" y1="228.4" x2="119.60" y2="247.25"/>
<line x1="123.40" y1="228.4" x2="123.40" y2="241.00"/>
<line x1="122.40" y1="228.4" x2="122.40" y2="257.25"/>
<line x1="128.10" y1="228.4" x2="128.10" y2="241.00"/>
<line x1="132.50" y1="228.4" x2="132.50" y2="241.00"/>
<line x1="136.90" y1="228.4" x2="136.90" y2="241.00"/>
<line x1="138.75" y1="228.4" x2="138.75" y2="241.25"/>
<line x1="127.75" y1="228.4" x2="127.75" y2="245.00"/>
<line x1="131.00" y1="228.4" x2="131.00" y2="246.25"/>
<line x1="150.00" y1="228.4" x2="150.00" y2="234.75"/>
<line x1="161.25" y1="228.4" x2="161.25" y2="234.75"/>
<line x1="152.90" y1="228.4" x2="152.90" y2="241.25"/>
<line x1="165.90" y1="228.4" x2="165.90" y2="251.00"/>
<line x1="190.00" y1="228.4" x2="190.00" y2="234.75"/>
<line x1="200.00" y1="228.4" x2="200.00" y2="234.75"/>
<line x1="213.75" y1="228.4" x2="213.75" y2="234.75"/>
<line x1="220.25" y1="228.4" x2="220.25" y2="234.75"/>
<line x1="222.50" y1="228.4" x2="222.50" y2="241.00"/>
<line x1="235.00" y1="228.4" x2="235.00" y2="243.10"/>
<line x1="229.75" y1="228.4" x2="229.75" y2="251.50"/>
<line x1="217.50" y1="228.4" x2="217.50" y2="253.50"/>
<line x1="221.90" y1="228.4" x2="221.90" y2="255.00"/>
<line x1="252.50" y1="228.4" x2="252.50" y2="238.50"/>
<line x1="246.25" y1="228.4" x2="246.25" y2="243.50"/>
<line x1="244.40" y1="228.4" x2="244.40" y2="241.00"/>
<line x1="250.00" y1="228.4" x2="250.00" y2="234.40"/>
<line x1="248.50" y1="228.4" x2="248.50" y2="241.50"/>
<line x1="259.40" y1="228.4" x2="259.40" y2="234.75"/>
<line x1="278.75" y1="228.4" x2="278.75" y2="234.75"/>
<line x1="277.75" y1="228.4" x2="277.75" y2="253.10"/>
<line x1="288.10" y1="228.4" x2="288.10" y2="251.90"/>
<line x1="303.75" y1="228.4" x2="303.75" y2="238.50"/>
<line x1="317.90" y1="228.4" x2="317.90" y2="238.50"/>
<line x1="325.60" y1="228.4" x2="325.60" y2="235.00"/>
<line x1="333.50" y1="228.4" x2="333.50" y2="235.00"/>
<line x1="336.25" y1="228.4" x2="336.25" y2="235.00"/>
<line x1="339.75" y1="228.4" x2="339.75" y2="234.75"/>
<line x1="347.50" y1="228.4" x2="347.50" y2="241.25"/>
<line x1="345.60" y1="228.4" x2="345.60" y2="238.75"/>
<line x1="342.90" y1="228.4" x2="342.90" y2="235.00"/>
<line x1="319.00" y1="228.4" x2="319.00" y2="246.60"/>
<line x1="318.30" y1="228.4" x2="318.30" y2="246.00"/>
<line x1="328.75" y1="228.4" x2="328.75" y2="251.90"/>
<line x1="328.50" y1="228.4" x2="328.50" y2="260.25"/>
<line x1="343.75" y1="228.4" x2="343.75" y2="253.50"/>
<line x1="357.50" y1="228.4" x2="357.50" y2="240.60"/>
<line x1="360.30" y1="228.4" x2="360.30" y2="234.75"/>
<line x1="361.25" y1="228.4" x2="361.25" y2="238.50"/>
<line x1="366.00" y1="228.4" x2="366.00" y2="234.75"/>
<line x1="367.75" y1="228.4" x2="367.75" y2="241.00"/>
<line x1="386.25" y1="228.4" x2="386.25" y2="234.75"/>
<line x1="384.10" y1="228.4" x2="384.10" y2="246.25"/>
<line x1="389.10" y1="228.4" x2="389.10" y2="246.25"/>
<line x1="374.10" y1="228.4" x2="374.10" y2="253.10"/>
<line x1="391.60" y1="228.4" x2="391.60" y2="258.75"/>
<line x1="415.00" y1="228.4" x2="415.00" y2="234.75"/>
<line x1="411.00" y1="228.4" x2="411.00" y2="238.50"/>
<line x1="414.40" y1="228.4" x2="414.40" y2="238.75"/>
<line x1="431.25" y1="228.4" x2="431.25" y2="234.75"/>
<line x1="441.50" y1="228.4" x2="441.50" y2="234.75"/>
<line x1="430.40" y1="228.4" x2="430.40" y2="241.00"/>
<line x1="458.00" y1="228.4" x2="458.00" y2="244.60"/>
<line x1="427.75" y1="228.4" x2="427.75" y2="256.50"/>
<line x1="471.90" y1="228.4" x2="471.90" y2="234.75"/>
<line x1="474.60" y1="228.4" x2="474.60" y2="234.75"/>
<line x1="477.50" y1="228.4" x2="477.50" y2="234.75"/>
<line x1="492.25" y1="228.4" x2="492.25" y2="238.50"/>
<line x1="70.50" y1="228.4" x2="70.50" y2="276.25"/>
<line x1="74.50" y1="228.4" x2="74.50" y2="295.00"/>
<line x1="145.50" y1="228.4" x2="145.50" y2="278.75"/>
<line x1="247.50" y1="228.4" x2="247.50" y2="343.75"/>
<line x1="305.50" y1="228.4" x2="305.50" y2="278.25"/>
<line x1="348.00" y1="228.4" x2="348.00" y2="290.60"/>
<line x1="367.00" y1="228.4" x2="367.00" y2="287.50"/>
<line x1="483.10" y1="228.4" x2="483.10" y2="275.20"/>
<line x1="271.25" y1="228.4" x2="271.25" y2="266.5"/>
</g>
<circle cx="76.60" cy="228.40" r="2.55" fill="#c01236" stroke="#6e0a1a" stroke-width="0.75"/>
<circle cx="164.40" cy="228.40" r="2.55" fill="#c01236" stroke="#6e0a1a" stroke-width="0.75"/>
<circle cx="418.10" cy="228.40" r="2.55" fill="#c01236" stroke="#6e0a1a" stroke-width="0.75"/>
<circle cx="434.75" cy="228.40" r="2.55" fill="#c01236" stroke="#6e0a1a" stroke-width="0.75"/>
<circle cx="477.25" cy="228.40" r="2.55" fill="#c01236" stroke="#6e0a1a" stroke-width="0.75"/>
<circle cx="70.60" cy="228.40" r="2.55" fill="#d2d2d2" stroke="#4c4c4c" stroke-width="0.75"/>
<circle cx="72.50" cy="228.40" r="2.55" fill="#d2d2d2" stroke="#4c4c4c" stroke-width="0.75"/>
<circle cx="75.00" cy="228.40" r="2.55" fill="#d2d2d2" stroke="#4c4c4c" stroke-width="0.75"/>
<circle cx="78.70" cy="228.40" r="2.55" fill="#d2d2d2" stroke="#4c4c4c" stroke-width="0.75"/>
<circle cx="81.90" cy="228.40" r="2.55" fill="#d2d2d2" stroke="#4c4c4c" stroke-width="0.75"/>
<circle cx="84.40" cy="228.40" r="2.55" fill="#d2d2d2" stroke="#4c4c4c" stroke-width="0.75"/>
<circle cx="89.00" cy="228.40" r="2.55" fill="#d2d2d2" stroke="#4c4c4c" stroke-width="0.75"/>
<circle cx="93.00" cy="228.40" r="2.55" fill="#d2d2d2" stroke="#4c4c4c" stroke-width="0.75"/>
<circle cx="95.60" cy="228.40" r="2.55" fill="#d2d2d2" stroke="#4c4c4c" stroke-width="0.75"/>
<circle cx="120.60" cy="228.40" r="2.55" fill="#d2d2d2" stroke="#4c4c4c" stroke-width="0.75"/>
<circle cx="128.10" cy="228.40" r="2.55" fill="#d2d2d2" stroke="#4c4c4c" stroke-width="0.75"/>
<circle cx="138.75" cy="228.40" r="2.55" fill="#d2d2d2" stroke="#4c4c4c" stroke-width="0.75"/>
<circle cx="141.90" cy="228.40" r="2.55" fill="#d2d2d2" stroke="#4c4c4c" stroke-width="0.75"/>
<circle cx="145.00" cy="228.40" r="2.55" fill="#d2d2d2" stroke="#4c4c4c" stroke-width="0.75"/>
<circle cx="150.00" cy="228.40" r="2.55" fill="#d2d2d2" stroke="#4c4c4c" stroke-width="0.75"/>
<circle cx="153.75" cy="228.40" r="2.55" fill="#d2d2d2" stroke="#4c4c4c" stroke-width="0.75"/>
<circle cx="157.50" cy="228.40" r="2.55" fill="#d2d2d2" stroke="#4c4c4c" stroke-width="0.75"/>
<circle cx="161.90" cy="228.40" r="2.55" fill="#d2d2d2" stroke="#4c4c4c" stroke-width="0.75"/>
<circle cx="166.90" cy="228.40" r="2.55" fill="#d2d2d2" stroke="#4c4c4c" stroke-width="0.75"/>
<circle cx="170.00" cy="228.40" r="2.55" fill="#d2d2d2" stroke="#4c4c4c" stroke-width="0.75"/>
<circle cx="172.50" cy="228.40" r="2.55" fill="#d2d2d2" stroke="#4c4c4c" stroke-width="0.75"/>
<circle cx="175.60" cy="228.40" r="2.55" fill="#d2d2d2" stroke="#4c4c4c" stroke-width="0.75"/>
<circle cx="178.75" cy="228.40" r="2.55" fill="#d2d2d2" stroke="#4c4c4c" stroke-width="0.75"/>
<circle cx="181.90" cy="228.40" r="2.55" fill="#d2d2d2" stroke="#4c4c4c" stroke-width="0.75"/>
<circle cx="184.40" cy="228.40" r="2.55" fill="#d2d2d2" stroke="#4c4c4c" stroke-width="0.75"/>
<circle cx="188.75" cy="228.40" r="2.55" fill="#d2d2d2" stroke="#4c4c4c" stroke-width="0.75"/>
<circle cx="192.50" cy="228.40" r="2.55" fill="#d2d2d2" stroke="#4c4c4c" stroke-width="0.75"/>
<circle cx="195.00" cy="228.40" r="2.55" fill="#d2d2d2" stroke="#4c4c4c" stroke-width="0.75"/>
<circle cx="198.10" cy="228.40" r="2.55" fill="#d2d2d2" stroke="#4c4c4c" stroke-width="0.75"/>
<circle cx="205.00" cy="228.40" r="2.55" fill="#d2d2d2" stroke="#4c4c4c" stroke-width="0.75"/>
<circle cx="210.00" cy="228.40" r="2.55" fill="#d2d2d2" stroke="#4c4c4c" stroke-width="0.75"/>
<circle cx="213.75" cy="228.40" r="2.55" fill="#d2d2d2" stroke="#4c4c4c" stroke-width="0.75"/>
<circle cx="216.90" cy="228.40" r="2.55" fill="#d2d2d2" stroke="#4c4c4c" stroke-width="0.75"/>
<circle cx="220.00" cy="228.40" r="2.55" fill="#d2d2d2" stroke="#4c4c4c" stroke-width="0.75"/>
<circle cx="228.75" cy="228.40" r="2.55" fill="#d2d2d2" stroke="#4c4c4c" stroke-width="0.75"/>
<circle cx="236.90" cy="228.40" r="2.55" fill="#d2d2d2" stroke="#4c4c4c" stroke-width="0.75"/>
<circle cx="240.00" cy="228.40" r="2.55" fill="#d2d2d2" stroke="#4c4c4c" stroke-width="0.75"/>
<circle cx="243.50" cy="228.40" r="2.55" fill="#d2d2d2" stroke="#4c4c4c" stroke-width="0.75"/>
<circle cx="246.25" cy="228.40" r="2.55" fill="#d2d2d2" stroke="#4c4c4c" stroke-width="0.75"/>
<circle cx="254.75" cy="228.40" r="2.55" fill="#d2d2d2" stroke="#4c4c4c" stroke-width="0.75"/>
<circle cx="261.25" cy="228.40" r="2.55" fill="#d2d2d2" stroke="#4c4c4c" stroke-width="0.75"/>
<circle cx="264.40" cy="228.40" r="2.55" fill="#d2d2d2" stroke="#4c4c4c" stroke-width="0.75"/>
<circle cx="267.50" cy="228.40" r="2.55" fill="#d2d2d2" stroke="#4c4c4c" stroke-width="0.75"/>
<circle cx="270.60" cy="228.40" r="2.55" fill="#d2d2d2" stroke="#4c4c4c" stroke-width="0.75"/>
<circle cx="275.60" cy="228.40" r="2.55" fill="#d2d2d2" stroke="#4c4c4c" stroke-width="0.75"/>
<circle cx="291.50" cy="228.40" r="2.55" fill="#d2d2d2" stroke="#4c4c4c" stroke-width="0.75"/>
<circle cx="299.20" cy="228.40" r="2.55" fill="#d2d2d2" stroke="#4c4c4c" stroke-width="0.75"/>
<circle cx="309.40" cy="228.40" r="2.55" fill="#d2d2d2" stroke="#4c4c4c" stroke-width="0.75"/>
<circle cx="311.90" cy="228.40" r="2.55" fill="#d2d2d2" stroke="#4c4c4c" stroke-width="0.75"/>
<circle cx="315.00" cy="228.40" r="2.55" fill="#d2d2d2" stroke="#4c4c4c" stroke-width="0.75"/>
<circle cx="321.90" cy="228.40" r="2.55" fill="#d2d2d2" stroke="#4c4c4c" stroke-width="0.75"/>
<circle cx="325.60" cy="228.40" r="2.55" fill="#d2d2d2" stroke="#4c4c4c" stroke-width="0.75"/>
<circle cx="332.00" cy="228.40" r="2.55" fill="#d2d2d2" stroke="#4c4c4c" stroke-width="0.75"/>
<circle cx="334.50" cy="228.40" r="2.55" fill="#d2d2d2" stroke="#4c4c4c" stroke-width="0.75"/>
<circle cx="343.75" cy="228.40" r="2.55" fill="#d2d2d2" stroke="#4c4c4c" stroke-width="0.75"/>
<circle cx="345.60" cy="228.40" r="2.55" fill="#d2d2d2" stroke="#4c4c4c" stroke-width="0.75"/>
<circle cx="348.10" cy="228.40" r="2.55" fill="#d2d2d2" stroke="#4c4c4c" stroke-width="0.75"/>
<circle cx="351.25" cy="228.40" r="2.55" fill="#d2d2d2" stroke="#4c4c4c" stroke-width="0.75"/>
<circle cx="353.75" cy="228.40" r="2.55" fill="#d2d2d2" stroke="#4c4c4c" stroke-width="0.75"/>
<circle cx="357.50" cy="228.40" r="2.55" fill="#d2d2d2" stroke="#4c4c4c" stroke-width="0.75"/>
<circle cx="361.25" cy="228.40" r="2.55" fill="#d2d2d2" stroke="#4c4c4c" stroke-width="0.75"/>
<circle cx="364.40" cy="228.40" r="2.55" fill="#d2d2d2" stroke="#4c4c4c" stroke-width="0.75"/>
<circle cx="365.60" cy="228.40" r="2.55" fill="#d2d2d2" stroke="#4c4c4c" stroke-width="0.75"/>
<circle cx="370.60" cy="228.40" r="2.55" fill="#d2d2d2" stroke="#4c4c4c" stroke-width="0.75"/>
<circle cx="378.75" cy="228.40" r="2.55" fill="#d2d2d2" stroke="#4c4c4c" stroke-width="0.75"/>
<circle cx="393.10" cy="228.40" r="2.55" fill="#d2d2d2" stroke="#4c4c4c" stroke-width="0.75"/>
<circle cx="399.10" cy="228.40" r="2.55" fill="#d2d2d2" stroke="#4c4c4c" stroke-width="0.75"/>
<circle cx="405.60" cy="228.40" r="2.55" fill="#d2d2d2" stroke="#4c4c4c" stroke-width="0.75"/>
<circle cx="408.10" cy="228.40" r="2.55" fill="#d2d2d2" stroke="#4c4c4c" stroke-width="0.75"/>
<circle cx="412.50" cy="228.40" r="2.55" fill="#d2d2d2" stroke="#4c4c4c" stroke-width="0.75"/>
<circle cx="415.00" cy="228.40" r="2.55" fill="#d2d2d2" stroke="#4c4c4c" stroke-width="0.75"/>
<circle cx="420.60" cy="228.40" r="2.55" fill="#d2d2d2" stroke="#4c4c4c" stroke-width="0.75"/>
<circle cx="423.75" cy="228.40" r="2.55" fill="#d2d2d2" stroke="#4c4c4c" stroke-width="0.75"/>
<circle cx="428.50" cy="228.40" r="2.55" fill="#d2d2d2" stroke="#4c4c4c" stroke-width="0.75"/>
<circle cx="438.75" cy="228.40" r="2.55" fill="#d2d2d2" stroke="#4c4c4c" stroke-width="0.75"/>
<circle cx="441.25" cy="228.40" r="2.55" fill="#d2d2d2" stroke="#4c4c4c" stroke-width="0.75"/>
<circle cx="443.75" cy="228.40" r="2.55" fill="#d2d2d2" stroke="#4c4c4c" stroke-width="0.75"/>
<circle cx="450.00" cy="228.40" r="2.55" fill="#d2d2d2" stroke="#4c4c4c" stroke-width="0.75"/>
<circle cx="452.50" cy="228.40" r="2.55" fill="#d2d2d2" stroke="#4c4c4c" stroke-width="0.75"/>
<circle cx="456.25" cy="228.40" r="2.55" fill="#d2d2d2" stroke="#4c4c4c" stroke-width="0.75"/>
<circle cx="463.75" cy="228.40" r="2.55" fill="#d2d2d2" stroke="#4c4c4c" stroke-width="0.75"/>
<circle cx="469.40" cy="228.40" r="2.55" fill="#d2d2d2" stroke="#4c4c4c" stroke-width="0.75"/>
<circle cx="480.60" cy="228.40" r="2.55" fill="#d2d2d2" stroke="#4c4c4c" stroke-width="0.75"/>
<circle cx="490.60" cy="228.40" r="2.55" fill="#d2d2d2" stroke="#4c4c4c" stroke-width="0.75"/>
<circle cx="107.90" cy="228.40" r="2.55" fill="#c01236" stroke="#6e0a1a" stroke-width="0.75"/>
<circle cx="384.40" cy="228.40" r="2.55" fill="#c01236" stroke="#6e0a1a" stroke-width="0.75"/>
<circle cx="75.60" cy="234.75" r="2.55" fill="#d2d2d2" stroke="#4c4c4c" stroke-width="0.75"/>
<circle cx="81.90" cy="234.75" r="2.55" fill="#d2d2d2" stroke="#4c4c4c" stroke-width="0.75"/>
<circle cx="78.75" cy="238.50" r="2.55" fill="#d2d2d2" stroke="#4c4c4c" stroke-width="0.75"/>
<circle cx="84.60" cy="238.50" r="2.55" fill="#d2d2d2" stroke="#4c4c4c" stroke-width="0.75"/>
<circle cx="75.25" cy="241.50" r="2.55" fill="#d2d2d2" stroke="#4c4c4c" stroke-width="0.75"/>
<circle cx="70.60" cy="241.00" r="2.55" fill="#3da153" stroke="#1d5e29" stroke-width="0.75"/>
<circle cx="87.75" cy="244.60" r="2.55" fill="#d2d2d2" stroke="#4c4c4c" stroke-width="0.75"/>
<circle cx="73.50" cy="250.00" r="2.55" fill="#d2d2d2" stroke="#4c4c4c" stroke-width="0.75"/>
<circle cx="71.90" cy="253.75" r="2.55" fill="#d2d2d2" stroke="#4c4c4c" stroke-width="0.75"/>
<circle cx="70.60" cy="259.00" r="2.55" fill="#3da153" stroke="#1d5e29" stroke-width="0.75"/>
<circle cx="106.50" cy="238.75" r="2.55" fill="#d2d2d2" stroke="#4c4c4c" stroke-width="0.75"/>
<circle cx="98.50" cy="238.50" r="2.55" fill="#d2d2d2" stroke="#4c4c4c" stroke-width="0.75"/>
<circle cx="102.50" cy="238.75" r="2.55" fill="#c01236" stroke="#6e0a1a" stroke-width="0.75"/>
<circle cx="108.10" cy="234.75" r="2.55" fill="#3da153" stroke="#1d5e29" stroke-width="0.75"/>
<circle cx="103.10" cy="243.10" r="2.55" fill="#d2d2d2" stroke="#4c4c4c" stroke-width="0.75"/>
<circle cx="97.75" cy="253.10" r="2.55" fill="#d2d2d2" stroke="#4c4c4c" stroke-width="0.75"/>
<circle cx="101.00" cy="249.75" r="2.55" fill="#3da153" stroke="#1d5e29" stroke-width="0.75"/>
<circle cx="103.75" cy="253.50" r="2.55" fill="#3da153" stroke="#1d5e29" stroke-width="0.75"/>
<circle cx="114.10" cy="241.00" r="2.55" fill="#c01236" stroke="#6e0a1a" stroke-width="0.75"/>
<circle cx="114.60" cy="244.40" r="2.55" fill="#c01236" stroke="#6e0a1a" stroke-width="0.75"/>
<circle cx="119.60" cy="247.25" r="2.55" fill="#c01236" stroke="#6e0a1a" stroke-width="0.75"/>
<circle cx="123.40" cy="241.00" r="2.55" fill="#d2d2d2" stroke="#4c4c4c" stroke-width="0.75"/>
<circle cx="122.40" cy="257.25" r="2.55" fill="#3da153" stroke="#1d5e29" stroke-width="0.75"/>
<circle cx="128.10" cy="241.00" r="2.55" fill="#d2d2d2" stroke="#4c4c4c" stroke-width="0.75"/>
<circle cx="132.50" cy="241.00" r="2.55" fill="#d2d2d2" stroke="#4c4c4c" stroke-width="0.75"/>
<circle cx="136.90" cy="241.00" r="2.55" fill="#c01236" stroke="#6e0a1a" stroke-width="0.75"/>
<circle cx="138.75" cy="241.25" r="2.55" fill="#d2d2d2" stroke="#4c4c4c" stroke-width="0.75"/>
<circle cx="127.75" cy="245.00" r="2.55" fill="#d2d2d2" stroke="#4c4c4c" stroke-width="0.75"/>
<circle cx="131.00" cy="246.25" r="2.55" fill="#d2d2d2" stroke="#4c4c4c" stroke-width="0.75"/>
<circle cx="150.00" cy="234.75" r="2.55" fill="#d2d2d2" stroke="#4c4c4c" stroke-width="0.75"/>
<circle cx="161.25" cy="234.75" r="2.55" fill="#c01236" stroke="#6e0a1a" stroke-width="0.75"/>
<circle cx="152.90" cy="241.25" r="2.55" fill="#d2d2d2" stroke="#4c4c4c" stroke-width="0.75"/>
<circle cx="165.90" cy="251.00" r="2.55" fill="#c01236" stroke="#6e0a1a" stroke-width="0.75"/>
<circle cx="190.00" cy="234.75" r="2.55" fill="#d2d2d2" stroke="#4c4c4c" stroke-width="0.75"/>
<circle cx="200.00" cy="234.75" r="2.55" fill="#d2d2d2" stroke="#4c4c4c" stroke-width="0.75"/>
<circle cx="213.75" cy="234.75" r="2.55" fill="#d2d2d2" stroke="#4c4c4c" stroke-width="0.75"/>
<circle cx="220.25" cy="234.75" r="2.55" fill="#d2d2d2" stroke="#4c4c4c" stroke-width="0.75"/>
<circle cx="222.50" cy="241.00" r="2.55" fill="#d2d2d2" stroke="#4c4c4c" stroke-width="0.75"/>
<circle cx="235.00" cy="243.10" r="2.55" fill="#d2d2d2" stroke="#4c4c4c" stroke-width="0.75"/>
<circle cx="229.75" cy="251.50" r="2.55" fill="#3da153" stroke="#1d5e29" stroke-width="0.75"/>
<circle cx="217.50" cy="253.50" r="2.55" fill="#d2d2d2" stroke="#4c4c4c" stroke-width="0.75"/>
<circle cx="221.90" cy="255.00" r="2.55" fill="#d2d2d2" stroke="#4c4c4c" stroke-width="0.75"/>
<circle cx="252.50" cy="238.50" r="2.55" fill="#d2d2d2" stroke="#4c4c4c" stroke-width="0.75"/>
<circle cx="246.25" cy="243.50" r="2.55" fill="#d2d2d2" stroke="#4c4c4c" stroke-width="0.75"/>
<circle cx="244.40" cy="241.00" r="2.55" fill="#c01236" stroke="#6e0a1a" stroke-width="0.75"/>
<circle cx="250.00" cy="234.40" r="2.55" fill="#3da153" stroke="#1d5e29" stroke-width="0.75"/>
<circle cx="248.50" cy="241.50" r="2.55" fill="#3da153" stroke="#1d5e29" stroke-width="0.75"/>
<circle cx="259.40" cy="234.75" r="2.55" fill="#d2d2d2" stroke="#4c4c4c" stroke-width="0.75"/>
<circle cx="278.75" cy="234.75" r="2.55" fill="#d2d2d2" stroke="#4c4c4c" stroke-width="0.75"/>
<circle cx="277.75" cy="253.10" r="2.55" fill="#3da153" stroke="#1d5e29" stroke-width="0.75"/>
<circle cx="288.10" cy="251.90" r="2.55" fill="#3da153" stroke="#1d5e29" stroke-width="0.75"/>
<circle cx="303.75" cy="238.50" r="2.55" fill="#d2d2d2" stroke="#4c4c4c" stroke-width="0.75"/>
<circle cx="317.90" cy="238.50" r="2.55" fill="#d2d2d2" stroke="#4c4c4c" stroke-width="0.75"/>
<circle cx="325.60" cy="235.00" r="2.55" fill="#d2d2d2" stroke="#4c4c4c" stroke-width="0.75"/>
<circle cx="333.50" cy="235.00" r="2.55" fill="#d2d2d2" stroke="#4c4c4c" stroke-width="0.75"/>
<circle cx="336.25" cy="235.00" r="2.55" fill="#d2d2d2" stroke="#4c4c4c" stroke-width="0.75"/>
<circle cx="339.75" cy="234.75" r="2.55" fill="#c01236" stroke="#6e0a1a" stroke-width="0.75"/>
<circle cx="347.50" cy="241.25" r="2.55" fill="#d2d2d2" stroke="#4c4c4c" stroke-width="0.75"/>
<circle cx="345.60" cy="238.75" r="2.55" fill="#d2d2d2" stroke="#4c4c4c" stroke-width="0.75"/>
<circle cx="342.90" cy="235.00" r="2.55" fill="#eecb2c" stroke="#85700f" stroke-width="0.75"/>
<circle cx="319.00" cy="246.60" r="2.55" fill="#d2d2d2" stroke="#4c4c4c" stroke-width="0.75"/>
<circle cx="318.30" cy="246.00" r="2.55" fill="#d2d2d2" stroke="#4c4c4c" stroke-width="0.75"/>
<circle cx="328.75" cy="251.90" r="2.55" fill="#3da153" stroke="#1d5e29" stroke-width="0.75"/>
<circle cx="328.50" cy="260.25" r="2.55" fill="#eecb2c" stroke="#85700f" stroke-width="0.75"/>
<circle cx="343.75" cy="253.50" r="2.55" fill="#d2d2d2" stroke="#4c4c4c" stroke-width="0.75"/>
<circle cx="357.50" cy="240.60" r="2.55" fill="#d2d2d2" stroke="#4c4c4c" stroke-width="0.75"/>
<circle cx="360.30" cy="234.75" r="2.55" fill="#d2d2d2" stroke="#4c4c4c" stroke-width="0.75"/>
<circle cx="361.25" cy="238.50" r="2.55" fill="#c01236" stroke="#6e0a1a" stroke-width="0.75"/>
<circle cx="366.00" cy="234.75" r="2.55" fill="#d2d2d2" stroke="#4c4c4c" stroke-width="0.75"/>
<circle cx="367.75" cy="241.00" r="2.55" fill="#d2d2d2" stroke="#4c4c4c" stroke-width="0.75"/>
<circle cx="386.25" cy="234.75" r="2.55" fill="#c01236" stroke="#6e0a1a" stroke-width="0.75"/>
<circle cx="384.10" cy="246.25" r="2.55" fill="#c01236" stroke="#6e0a1a" stroke-width="0.75"/>
<circle cx="389.10" cy="246.25" r="2.55" fill="#d2d2d2" stroke="#4c4c4c" stroke-width="0.75"/>
<circle cx="374.10" cy="253.10" r="2.55" fill="#3da153" stroke="#1d5e29" stroke-width="0.75"/>
<circle cx="391.60" cy="258.75" r="2.55" fill="#eecb2c" stroke="#85700f" stroke-width="0.75"/>
<circle cx="415.00" cy="234.75" r="2.55" fill="#d2d2d2" stroke="#4c4c4c" stroke-width="0.75"/>
<circle cx="411.00" cy="238.50" r="2.55" fill="#d2d2d2" stroke="#4c4c4c" stroke-width="0.75"/>
<circle cx="414.40" cy="238.75" r="2.55" fill="#d2d2d2" stroke="#4c4c4c" stroke-width="0.75"/>
<circle cx="431.25" cy="234.75" r="2.55" fill="#d2d2d2" stroke="#4c4c4c" stroke-width="0.75"/>
<circle cx="441.50" cy="234.75" r="2.55" fill="#d2d2d2" stroke="#4c4c4c" stroke-width="0.75"/>
<circle cx="430.40" cy="241.00" r="2.55" fill="#c01236" stroke="#6e0a1a" stroke-width="0.75"/>
<circle cx="458.00" cy="244.60" r="2.55" fill="#d2d2d2" stroke="#4c4c4c" stroke-width="0.75"/>
<circle cx="427.75" cy="256.50" r="2.55" fill="#d2d2d2" stroke="#4c4c4c" stroke-width="0.75"/>
<circle cx="471.90" cy="234.75" r="2.55" fill="#d2d2d2" stroke="#4c4c4c" stroke-width="0.75"/>
<circle cx="474.60" cy="234.75" r="2.55" fill="#d2d2d2" stroke="#4c4c4c" stroke-width="0.75"/>
<circle cx="477.50" cy="234.75" r="2.55" fill="#d2d2d2" stroke="#4c4c4c" stroke-width="0.75"/>
<circle cx="492.25" cy="238.50" r="2.55" fill="#d2d2d2" stroke="#4c4c4c" stroke-width="0.75"/>
<circle cx="70.50" cy="276.25" r="2.55" fill="#3da153" stroke="#1d5e29" stroke-width="0.75"/>
<circle cx="74.50" cy="295.00" r="2.55" fill="#3da153" stroke="#1d5e29" stroke-width="0.75"/>
<circle cx="145.50" cy="278.75" r="2.55" fill="#3da153" stroke="#1d5e29" stroke-width="0.75"/>
<circle cx="247.50" cy="343.75" r="2.55" fill="#3da153" stroke="#1d5e29" stroke-width="0.75"/>
<circle cx="305.50" cy="278.25" r="2.55" fill="#eecb2c" stroke="#85700f" stroke-width="0.75"/>
<circle cx="348.00" cy="290.60" r="2.55" fill="#3da153" stroke="#1d5e29" stroke-width="0.75"/>
<circle cx="367.00" cy="287.50" r="2.55" fill="#3da153" stroke="#1d5e29" stroke-width="0.75"/>
<circle cx="483.10" cy="275.20" r="2.55" fill="#eecb2c" stroke="#85700f" stroke-width="0.75"/>
<circle cx="271.25" cy="266.2" r="0.8" fill="#333"/>
<rect x="52.10" y="278.90" width="34.50" height="10.50" rx="1.2" fill="#fff" stroke="#626262" stroke-width="1"/>
<text font-size="6.36" text-anchor="middle" fill="#2a2a2a" transform="translate(69.35,286.41) scale(0.94,1)" stroke="#2a2a2a" stroke-width="0.16">p.Arg3His</text>
<rect x="79.70" y="296.30" width="33.80" height="10.30" rx="1.2" fill="#fff" stroke="#626262" stroke-width="1"/>
<text font-size="6.36" text-anchor="middle" fill="#2a2a2a" transform="translate(96.60,303.71) scale(0.94,1)" stroke="#2a2a2a" stroke-width="0.16">p.Ile7Phe</text>
<rect x="151.80" y="267.00" width="37.50" height="10.50" rx="1.2" fill="#fff" stroke="#626262" stroke-width="1"/>
<text font-size="6.36" text-anchor="middle" fill="#2a2a2a" transform="translate(170.55,274.51) scale(0.94,1)" stroke="#2a2a2a" stroke-width="0.16">p.Thr84Ala</text>
<rect x="171.30" y="238.80" width="42.50" height="10.60" rx="1.2" fill="#fff" stroke="#626262" stroke-width="1"/>
<text font-size="6.36" text-anchor="middle" fill="#2a2a2a" transform="translate(192.55,246.36) scale(0.94,1)" stroke="#2a2a2a" stroke-width="0.16">p.Gly106Ser</text>
<rect x="233.80" y="331.30" width="40.50" height="10.00" rx="1.2" fill="#fff" stroke="#626262" stroke-width="1"/>
<text font-size="6.36" text-anchor="middle" fill="#2a2a2a" transform="translate(254.05,338.56) scale(0.94,1)" stroke="#2a2a2a" stroke-width="0.16">p.Thr194Ala</text>
<rect x="262.00" y="266.30" width="38.00" height="10.40" rx="1.2" fill="#fff" stroke="#626262" stroke-width="1"/>
<text font-size="6.36" text-anchor="middle" fill="#2a2a2a" transform="translate(281.00,273.76) scale(0.94,1)" stroke="#2a2a2a" stroke-width="0.16">p.Val257Ile</text>
<rect x="302.00" y="292.50" width="40.00" height="10.50" rx="1.2" fill="#fff" stroke="#626262" stroke-width="1"/>
<text font-size="6.36" text-anchor="middle" fill="#2a2a2a" transform="translate(322.00,300.01) scale(0.94,1)" stroke="#2a2a2a" stroke-width="0.16">p.His303Tyr</text>
<rect x="372.50" y="275.50" width="42.50" height="10.00" rx="1.2" fill="#fff" stroke="#626262" stroke-width="1"/>
<text font-size="6.36" text-anchor="middle" fill="#2a2a2a" transform="translate(393.75,282.76) scale(0.94,1)" stroke="#2a2a2a" stroke-width="0.16">p.Glu323Lys</text>
<rect x="467.00" y="262.50" width="41.80" height="10.00" rx="1.2" fill="#fff" stroke="#626262" stroke-width="1"/>
<text font-size="6.36" text-anchor="middle" fill="#2a2a2a" transform="translate(487.90,269.76) scale(0.94,1)" stroke="#2a2a2a" stroke-width="0.16">p.Arg449Trp</text>
<circle cx="61.60" cy="323.30" r="2.65" fill="#3da153" stroke="#1d5e29" stroke-width="0.75"/>
<text font-size="6.41" fill="#222" transform="translate(67.6,325.40) scale(0.94,1)" stroke="#222" stroke-width="0.16">Benign/likely benign</text>
<circle cx="61.60" cy="333.00" r="2.65" fill="#c01236" stroke="#6e0a1a" stroke-width="0.75"/>
<text font-size="6.41" fill="#222" transform="translate(67.6,335.10) scale(0.94,1)" stroke="#222" stroke-width="0.16">Pathogenic/likely pathogenic</text>
<circle cx="61.60" cy="342.70" r="2.65" fill="#eecb2c" stroke="#85700f" stroke-width="0.75"/>
<text font-size="6.41" fill="#222" transform="translate(67.6,344.80) scale(0.94,1)" stroke="#222" stroke-width="0.16">Conflicting pathogenicity</text>
<circle cx="61.60" cy="352.40" r="2.65" fill="#d2d2d2" stroke="#4c4c4c" stroke-width="0.75"/>
<text font-size="6.41" fill="#222" transform="translate(67.6,354.50) scale(0.94,1)" stroke="#222" stroke-width="0.16">NA</text>
<text font-size="6.41" fill="#222" transform="translate(396.2,323.70) scale(0.94,1)" stroke="#222" stroke-width="0.16">N = 241 missense mutations</text>
<text transform="translate(424.8,342.5) scale(1.08,1)" font-size="15.8" font-weight="bold" fill="#111" stroke="#111" stroke-width="0.2">gnom</text>
<text transform="translate(471.3,342.5) scale(1.15,1)" font-size="13.6" font-weight="bold" fill="#111" stroke="#111" stroke-width="0.55">AD</text>
<path d="M424.6,356.8 C424.7,353.6 426.3,351.4 428,351.4 C429.8,351.4 431.4,353.6 431.5,356.8 Z" fill="#1f74c4"/>
<path d="M433,356.8 C435,353 438.5,347.5 441.5,345.6 C443.5,346.8 445,348.6 446.5,349.9 C448,348.6 450,347 451.8,346.4 C454,347.2 456,349 457.7,350.3 C459.5,348.6 462,346.2 464.6,345.1 C467.2,347 469,352 470,356.8 Z" fill="#1f74c4"/>
<path d="M472.3,356.8 L472.3,352.6 C472.8,349.6 474.8,347.4 476.6,346.7 C478.4,347.4 480.3,349.6 480.8,352.6 L480.8,356.8 Z" fill="#1f74c4"/>
<path d="M484.6,356.8 L484.6,353 C485.1,350 487.2,348 489,347.4 C490.9,348 493,350 493.5,353 L493.5,356.8 Z" fill="#1f74c4"/>
<rect x="0" y="0" width="520" height="1" fill="#505050"/>
<rect x="0" y="0" width="1" height="364" fill="#555"/>
<rect x="518.9" y="0" width="1.1" height="364" fill="#454545"/>
<rect x="0" y="362.6" width="520" height="1.4" fill="#3c3c3c"/>
</svg>
</body></html>
